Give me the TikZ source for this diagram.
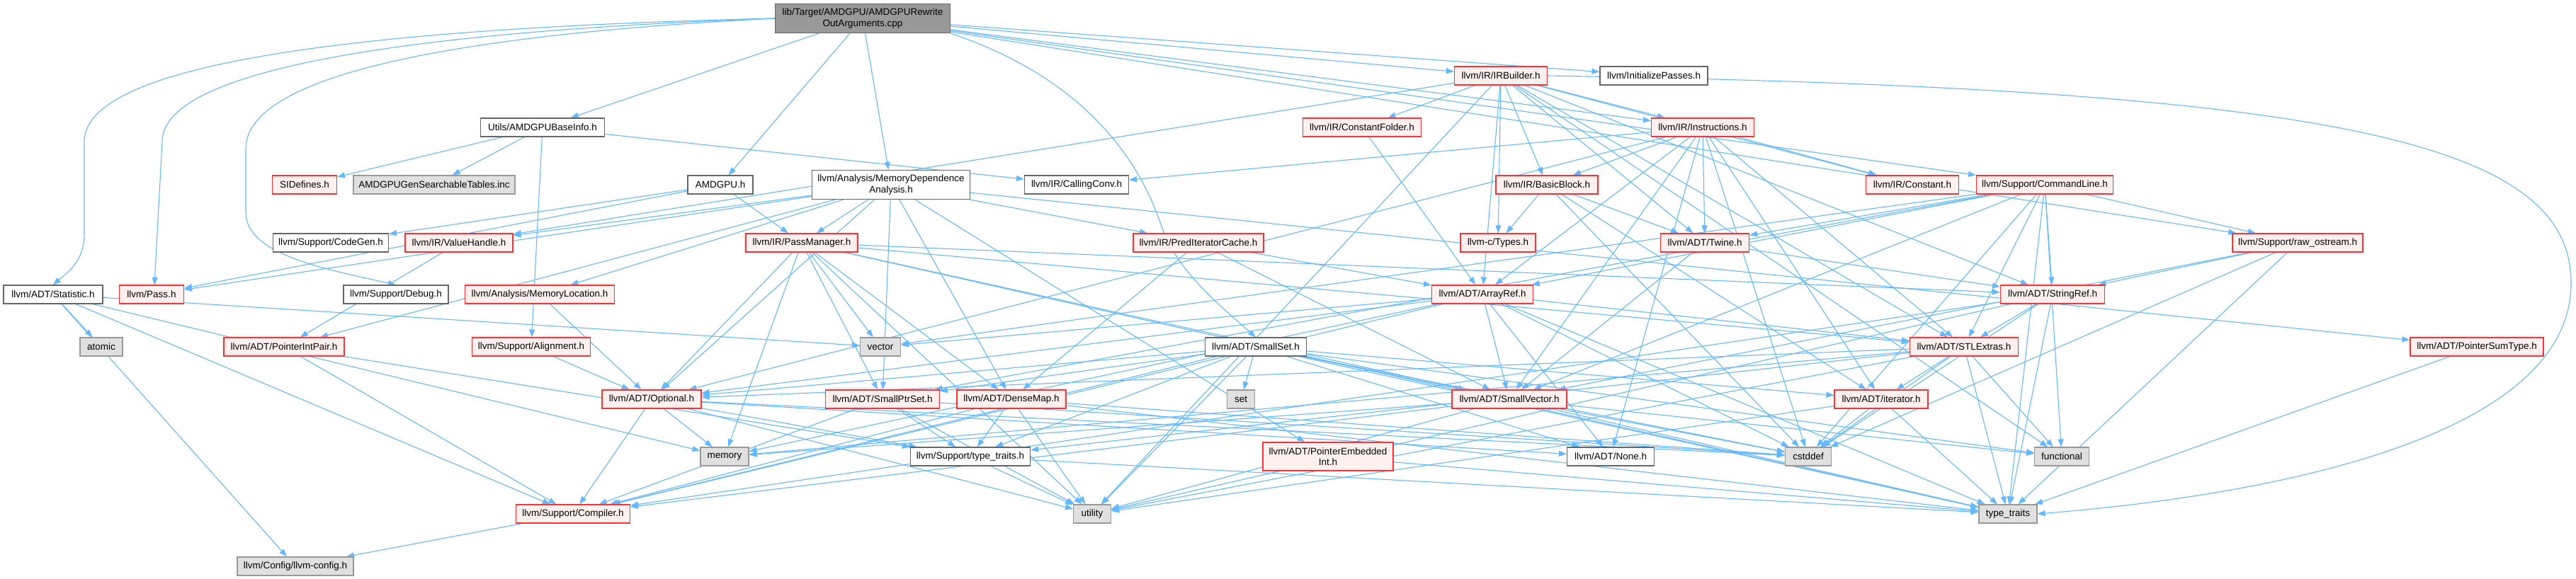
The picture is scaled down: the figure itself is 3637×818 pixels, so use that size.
\documentclass[tikz,border=0pt]{standalone}
\usepackage{fontspec}
\setmainfont{Liberation Sans}
\usetikzlibrary{arrows.meta}
\definecolor{redc}{HTML}{FF3030}
\definecolor{pinkc}{HTML}{FFF0F0}
\definecolor{grayb}{HTML}{666666}
\definecolor{grayc}{HTML}{999999}
\definecolor{grayf}{HTML}{E0E0E0}
\definecolor{rootf}{HTML}{999999}
\definecolor{edgec}{HTML}{63B8FF}
\pgfdeclarelayer{bg}
\pgfsetlayers{bg,main}
\tikzset{
 nb/.style={draw, rectangle, inner xsep=3pt, inner ysep=2pt, minimum height=26pt, font=\fontsize{13.5}{15.5}\selectfont, line width=1.2pt, align=center},
 rd/.style={nb, draw=redc, fill=pinkc},
 wh/.style={nb, draw=grayb, fill=white},
 gr/.style={nb, draw=grayc, fill=grayf},
 rt/.style={nb, draw=grayb, fill=rootf},
 ed/.style={draw=edgec, line width=1.1pt, -{Triangle[length=11pt,width=8pt]}},
}
\begin{document}
\begin{tikzpicture}[x=1pt,y=-1pt]
\useasboundingbox (0,0) rectangle (3637,818);
% rank 0
\node[rt, minimum width=247pt, minimum height=41pt] (root) at (1218,26) {lib/Target/AMDGPU/AMDGPURewrite\\OutArguments.cpp};
% rank 1
\node[rd, minimum width=131pt] (irb) at (2119,107) {llvm/IR/IRBuilder.h};
\node[wh, minimum width=152pt] (initp) at (2335,107) {llvm/InitializePasses.h};
% rank 2
\node[wh, minimum width=175pt] (abi) at (766,180) {Utils/AMDGPUBaseInfo.h};
\node[rd, minimum width=167pt] (cfold) at (1923,180) {llvm/IR/ConstantFolder.h};
\node[rd, minimum width=145pt] (instr) at (2404,180) {llvm/IR/Instructions.h};
% rank 3
\node[rd, minimum width=91pt] (sidef) at (430,261) {SIDefines.h};
\node[gr, minimum width=228pt] (gentab) at (613,261) {AMDGPUGenSearchableTables.inc};
\node[wh, minimum width=92pt] (amdgpu) at (1017,261) {AMDGPU.h};
\node[wh, minimum width=223pt, minimum height=41pt] (memdep) at (1258,261) {llvm/Analysis/MemoryDependence\\Analysis.h};
\node[wh, minimum width=147pt] (cconv) at (1520,261) {llvm/IR/CallingConv.h};
\node[rd, minimum width=144pt] (bb) at (2184,261) {llvm/IR/BasicBlock.h};
\node[rd, minimum width=131pt] (const) at (2700,261) {llvm/IR/Constant.h};
\node[rd, minimum width=193pt] (cl) at (2887,261) {llvm/Support/CommandLine.h};
% rank 4
\node[wh, minimum width=163pt] (codegen) at (467,343) {llvm/Support/CodeGen.h};
\node[rd, minimum width=152pt] (vh) at (648,343) {llvm/IR/ValueHandle.h};
\node[rd, minimum width=158pt] (pm) at (1132,343) {llvm/IR/PassManager.h};
\node[rd, minimum width=184pt] (pic) at (1692,343) {llvm/IR/PredIteratorCache.h};
\node[rd, minimum width=106pt] (ctypes) at (2115,343) {llvm-c/Types.h};
\node[rd, minimum width=125pt] (twine) at (2407,343) {llvm/ADT/Twine.h};
\node[rd, minimum width=184pt] (raw) at (3244,343) {llvm/Support/raw\_ostream.h};
% rank 5
\node[wh, minimum width=140pt] (stat) at (75,416) {llvm/ADT/Statistic.h};
\node[rd, minimum width=91pt] (pass) at (214,416) {llvm/Pass.h};
\node[wh, minimum width=148pt] (debug) at (559,416) {llvm/Support/Debug.h};
\node[rd, minimum width=211pt] (memloc) at (762,416) {llvm/Analysis/MemoryLocation.h};
\node[rd, minimum width=143pt] (aref) at (2093,416) {llvm/ADT/ArrayRef.h};
\node[rd, minimum width=147pt] (sref) at (2898,416) {llvm/ADT/StringRef.h};
% rank 6
\node[gr, minimum width=60pt] (atomic) at (143,490) {atomic};
\node[rd, minimum width=170pt] (pip) at (401,490) {llvm/ADT/PointerIntPair.h};
\node[rd, minimum width=167pt] (align) at (750,490) {llvm/Support/Alignment.h};
\node[gr, minimum width=57pt] (vector) at (1243,490) {vector};
\node[wh, minimum width=143pt] (sset) at (1773,490) {llvm/ADT/SmallSet.h};
\node[rd, minimum width=153pt] (stl) at (2773,490) {llvm/ADT/STLExtras.h};
\node[rd, minimum width=188pt] (pst) at (3497,490) {llvm/ADT/PointerSumType.h};
% rank 7
\node[rd, minimum width=140pt] (opt) at (920,564) {llvm/ADT/Optional.h};
\node[rd, minimum width=161pt] (sps) at (1246,564) {llvm/ADT/SmallPtrSet.h};
\node[rd, minimum width=154pt] (dmap) at (1428,564) {llvm/ADT/DenseMap.h};
\node[gr, minimum width=39pt] (set) at (1752,564) {set};
\node[rd, minimum width=162pt] (svec) at (2131,564) {llvm/ADT/SmallVector.h};
\node[rd, minimum width=132pt] (iter) at (2656,564) {llvm/ADT/iterator.h};
% rank 8
\node[gr, minimum width=68pt] (memory) at (1023,645) {memory};
\node[wh, minimum width=169pt] (stt) at (1370,645) {llvm/Support/type\_traits.h};
\node[rd, minimum width=184pt, minimum height=40pt] (pei) at (1875,645) {llvm/ADT/PointerEmbedded\\Int.h};
\node[wh, minimum width=123pt] (none) at (2274,645) {llvm/ADT/None.h};
\node[gr, minimum width=65pt] (cstddef) at (2553,645) {cstddef};
\node[gr, minimum width=77pt] (functional) at (2911,645) {functional};
% rank 9
\node[rd, minimum width=161pt] (comp) at (809,726) {llvm/Support/Compiler.h};
\node[gr, minimum width=53pt] (utility) at (1542,726) {utility};
\node[gr, minimum width=82pt] (tt) at (2835,726) {type\_traits};
% rank 10
\node[gr, minimum width=164pt] (cfg) at (417,800) {llvm/Config/llvm-config.h};

\begin{pgfonlayer}{bg}
% curved edges from the root round the left side
\draw[ed] (root.west) .. controls (500,40) and (119,90) .. (119,200) -- (119,330) .. controls (119,370) and (95,385) .. (stat.north);
\draw[ed] (root.west) .. controls (560,45) and (229,100) .. (229,200) -- (218,403);
\draw[ed] (root.west) .. controls (620,50) and (347,110) .. (347,210) -- (347,300) .. controls (347,360) and (460,380) .. (debug.north);
% root to SmallSet, bending round CallingConv
\draw[ed] (root.south east) .. controls (1560,120) and (1620,260) .. (1640,320) .. controls (1660,380) and (1720,430) .. (sset.north);
% IRBuilder round the right side to type_traits
\draw[ed] (irb.east) .. controls (3300,125) and (3630,200) .. (3630,400) .. controls (3630,620) and (3200,700) .. (tt.east);
% straight edges
\foreach \a/\b in {
 root/amdgpu, root/abi, root/memdep, root/irb, root/initp, root/instr, root/cl, root/raw,
 abi/sidef, abi/gentab, abi/cconv, abi/align,
 amdgpu/pm, amdgpu/codegen, amdgpu/pass,
 memdep/pm, memdep/pic, memdep/vh, memdep/memloc, memdep/pip, memdep/pass, memdep/dmap, memdep/sps, memdep/pei, memdep/pst, memdep/opt,
 pm/dmap, pm/stl, pm/sps, pm/svec, pm/sref, pm/memory, pm/tt, pm/utility, pm/vector, pm/opt,
 pic/aref, pic/dmap, pic/svec,
 vh/pip, pip/comp, pip/stt, memloc/opt, align/opt,
 stat/cfg, stat/comp, stat/atomic, stat/memory, stat/vector,
 irb/ctypes, irb/aref, irb/stl, irb/sref, irb/twine, irb/bb, irb/const, irb/cfold, irb/instr, irb/vh, irb/functional, irb/utility,
 cfold/aref,
 instr/bb, instr/const, instr/cconv, instr/aref, instr/none, instr/stl, instr/svec, instr/twine, instr/iter, instr/cstddef, instr/opt,
 bb/ctypes, bb/twine, bb/iter, bb/cstddef,
 cl/aref, cl/stl, cl/sps, cl/svec, cl/sref, cl/twine, cl/raw, cl/cstddef, cl/functional, cl/tt, cl/vector,
 raw/sref, raw/svec, raw/cstddef, raw/tt,
 twine/svec, twine/sref,
 aref/none, aref/stl, aref/svec, aref/comp, aref/memory, aref/tt, aref/vector, aref/cstddef, aref/opt,
 sref/comp, sref/cstddef, sref/tt, sref/utility, sref/stl,
 stl/iter, stl/cstddef, stl/functional, stl/memory, stl/tt, stl/utility, stl/opt, stl/stt,
 svec/comp, svec/cstddef, svec/functional, svec/memory, svec/tt, svec/utility,
 sset/none, sset/opt, sset/sps, sset/svec, sset/iter, sset/comp, sset/stt, sset/cstddef, sset/functional, sset/set, sset/tt, sset/utility,
 sps/comp, sps/stt, sps/cstddef, sps/utility,
 dmap/comp, dmap/stt, dmap/cstddef, dmap/tt, dmap/utility,
 opt/none, opt/comp, opt/stt, opt/utility, opt/memory, opt/cstddef,
 iter/cstddef, iter/tt, iter/utility,
 stt/tt, stt/utility, comp/cfg, pst/tt, pei/tt}
 \draw[ed] (\a) -- (\b);
\end{pgfonlayer}
\end{tikzpicture}
\end{document}
